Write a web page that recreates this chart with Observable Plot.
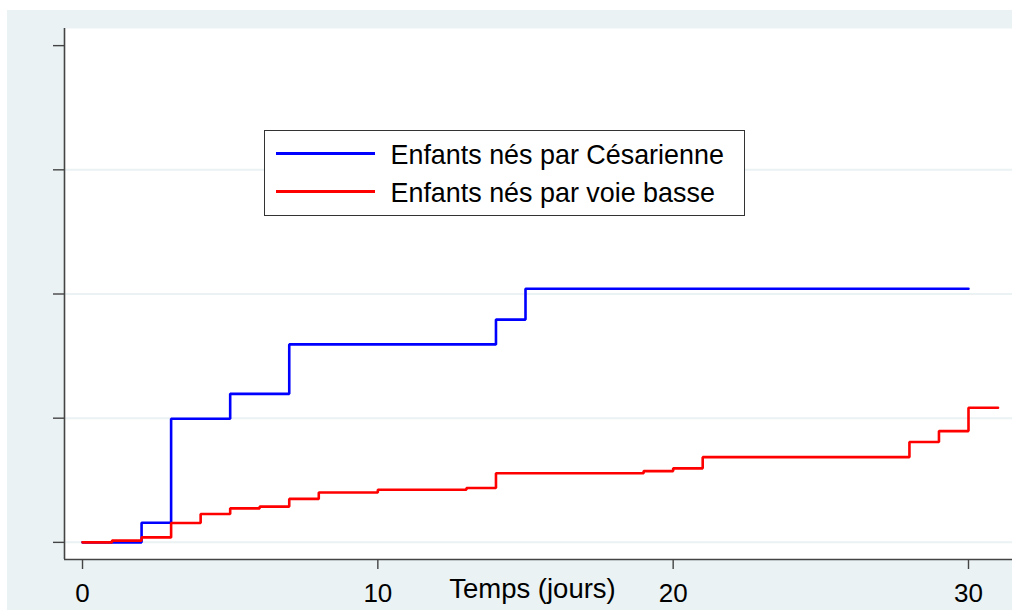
<!DOCTYPE html>
<html><head><meta charset="utf-8">
<script src="https://cdn.jsdelivr.net/npm/d3@7"></script>
<script src="https://cdn.jsdelivr.net/npm/@observablehq/plot@0.6"></script>
<style>
body{margin:0;background:#fff;font-family:"Liberation Sans",Arial,sans-serif;}
#wrap{position:relative;width:1012px;height:610px;overflow:hidden;background:#fff;}
#chart{position:absolute;left:7px;top:10px;}
#legend{position:absolute;left:264px;top:130px;width:481px;height:86px;box-sizing:border-box;border:1.5px solid #333;background:#fff;}
.sw{position:absolute;left:10.5px;width:99px;height:2.6px;}
.lab{position:absolute;left:125.5px;font-size:26.9px;line-height:1;white-space:nowrap;color:#000;}
</style></head>
<body><div id="wrap"><div id="chart"></div><div id="legend"></div></div>
<script>
// Series names and colours
const seriesNames = ["Enfants nés par Césarienne", "Enfants nés par voie basse"];
const seriesColors = ["#0000ff", "#ff0000"];
// Césarienne: step times (days) and cumulative values
const cesTime  = [0, 2, 3, 5, 7, 14, 15, 30];
const cesValue = [0, 0.0079, 0.0498, 0.0598, 0.0797, 0.0897, 0.1021, 0.1021];
// Voie basse: step times (days) and cumulative values
const vbTime  = [0, 1, 2, 3, 4, 5, 6, 7, 8, 10, 13, 14, 19, 20, 21, 28, 29, 30, 31];
const vbValue = [0, 0.0007, 0.0020, 0.0078, 0.0114, 0.0137, 0.0144, 0.0175, 0.0201, 0.0212, 0.0219, 0.0278, 0.0287, 0.0298, 0.0343, 0.0404, 0.0448, 0.0542, 0.0542];
// Axes
const xTicks = [0, 10, 20, 30];
const yTicks = [0, 0.05, 0.10, 0.15, 0.20];
const yGrid  = [0, 0.05, 0.10, 0.15];
const xLabel = "Temps (jours)";
const xDomain = [-0.61, 31.49];
const yDomain = [-0.0069, 0.2069];

const ces = cesTime.map((t, i) => ({t, v: cesValue[i]}));
const vb  = vbTime.map((t, i) => ({t, v: vbValue[i]}));

const bg = "#EAF2F3";
const axisCol = "#444";

const chart = Plot.plot({
  width: 1005,
  height: 600,
  marginLeft: 57,
  marginRight: 0,
  marginTop: 18,
  marginBottom: 51,
  style: {background: bg, fontFamily: "'Liberation Sans', Arial, sans-serif", color: "#000", overflow: "visible"},
  x: {domain: xDomain},
  y: {domain: yDomain},
  marks: [
    Plot.frame({fill: "white", stroke: null}),
    Plot.gridY(yGrid, {stroke: bg, strokeOpacity: 1, strokeWidth: 2}),
    Plot.line(ces, {x: "t", y: "v", curve: "step-after", stroke: seriesColors[0], strokeWidth: 2.6, strokeLinejoin: "miter"}),
    Plot.line(vb,  {x: "t", y: "v", curve: "step-after", stroke: seriesColors[1], strokeWidth: 2.6, strokeLinejoin: "miter"}),
    Plot.ruleX([xDomain[0]], {stroke: axisCol, strokeWidth: 1.6}),
    Plot.ruleY([yDomain[0]], {stroke: axisCol, strokeWidth: 1.6}),
    Plot.axisY({ticks: yTicks, tickSize: 11, tickFormat: () => "", label: null, stroke: axisCol, strokeWidth: 1.4}),
    Plot.axisX({ticks: xTicks, tickSize: 10, tickPadding: 14, tickFormat: d => String(d), fontSize: 26, stroke: axisCol, strokeWidth: 1.4, fill: "#000", label: null}),
    Plot.text([xLabel], {text: d => d, frameAnchor: "bottom", lineAnchor: "bottom", dy: 38, dx: -6, fontSize: 27.5, fill: "#000"})
  ]
});
document.getElementById("chart").appendChild(chart);

// Legend
const legend = document.getElementById("legend");
const lineTops = [21.2, 59.2];
const textTops = [10.8, 48.8];
seriesNames.forEach((name, i) => {
  const sw = document.createElement("div");
  sw.className = "sw";
  sw.style.top = lineTops[i] + "px";
  sw.style.background = seriesColors[i];
  legend.appendChild(sw);
  const lab = document.createElement("div");
  lab.className = "lab";
  lab.style.top = textTops[i] + "px";
  lab.textContent = name;
  legend.appendChild(lab);
});
</script>
</body></html>
